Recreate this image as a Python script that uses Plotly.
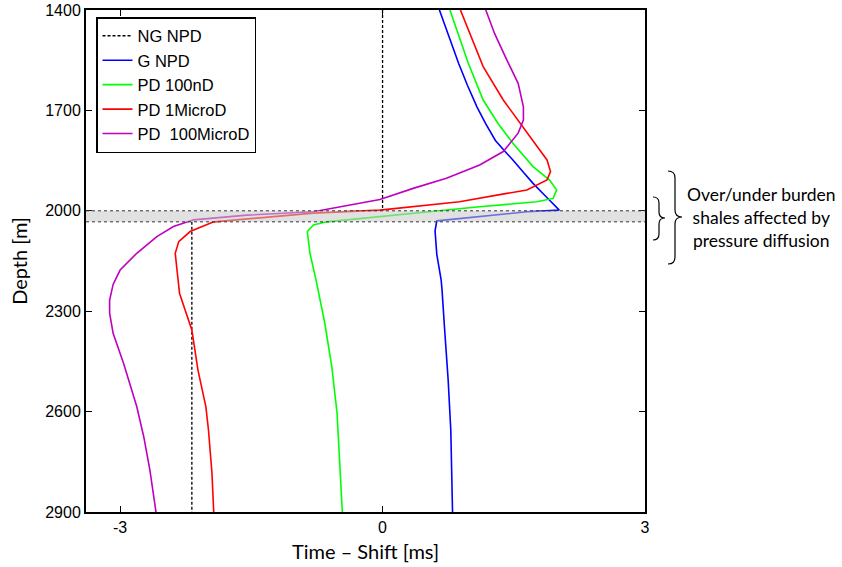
import plotly.graph_objects as go

# ---------------- data ----------------
ng_npd_x = [0.0, 0.0, None, -2.18, -2.18]
ng_npd_depth = [1400, 2000, None, 2033, 2900]

g_npd_x = [0.65, 0.76, 0.87, 0.97, 1.08, 1.18, 1.29, 1.39, 1.49, 1.61, 1.72, 1.87, 2.02,
           1.65, 0.62, 0.60, 0.62, 0.67, 0.68, 0.71, 0.75, 0.78, 0.80]
g_npd_depth = [1400, 1480, 1560, 1625, 1690, 1740, 1790, 1820, 1848, 1885, 1918, 1958, 1998,
               2003, 2030, 2060, 2130, 2207, 2237, 2356, 2506, 2655, 2900]

pd100nd_x = [0.77, 0.98, 1.15, 1.32, 1.49, 1.72, 1.91, 1.99, 1.95, 1.76, 1.11, 0.35, -0.03,
             -0.64, -0.79, -0.86, -0.83, -0.76, -0.66, -0.58, -0.52, -0.49, -0.46]
pd100nd_depth = [1400, 1559, 1669, 1739, 1798, 1868, 1908, 1938, 1963, 1973, 1988, 2007, 2018,
                 2033, 2042, 2062, 2127, 2207, 2336, 2466, 2605, 2755, 2900]

pd1micro_x = [0.89, 1.0, 1.15, 1.38, 1.57, 1.74, 1.88, 1.92, 1.88, 1.65, 1.42, 0.88, -0.03,
              -0.79, -1.93, -2.2, -2.33, -2.37, -2.34, -2.32, -2.18, -2.11, -2.02, -1.99, -1.95, -1.93]
pd1micro_depth = [1400, 1470, 1569, 1669, 1739, 1798, 1848, 1883, 1908, 1938, 1948, 1973, 1998,
                  2007, 2033, 2062, 2092, 2127, 2200, 2247, 2356, 2476, 2585, 2655, 2784, 2900]

pd100micro_x = [1.18, 1.28, 1.42, 1.55, 1.61, 1.61, 1.55, 1.38, 1.11, 0.73, 0.35, -0.03, -0.79,
                -1.55, -2.16, -2.39, -2.58, -2.81, -3.0, -3.08, -3.12, -3.12, -3.08, -2.96, -2.81,
                -2.73, -2.66, -2.59]
pd100micro_depth = [1400, 1470, 1549, 1619, 1689, 1729, 1768, 1823, 1863, 1903, 1933, 1966, 2003,
                    2013, 2027, 2047, 2077, 2127, 2177, 2220, 2267, 2306, 2366, 2456, 2585,
                    2675, 2774, 2900]

reservoir_top = 2000
reservoir_bottom = 2033

x_tickvals = [-3, 0, 3]
x_ticktext = ["-3", "0", "3"]
y_tickvals = [1400, 1700, 2000, 2300, 2600, 2900]

annotation_lines = ["Over/under burden", "shales affected by", "pressure diffusion"]

# ---------------- figure ----------------
fig = go.Figure()

series = [
    ("NG NPD", ng_npd_x, ng_npd_depth, "black", "3px,2px"),
    ("G NPD", g_npd_x, g_npd_depth, "#0000FF", "solid"),
    ("PD 100nD", pd100nd_x, pd100nd_depth, "#00FF00", "solid"),
    ("PD 1MicroD", pd1micro_x, pd1micro_depth, "#FF0000", "solid"),
    ("PD\u00a0\u00a0100MicroD", pd100micro_x, pd100micro_depth, "#BF00BF", "solid"),
]
for name, xs, ds, col, dash in series:
    fig.add_trace(go.Scatter(
        x=xs, y=ds, mode="lines", name=name, connectgaps=False,
        line=dict(color=col, width=1.6 if dash == "solid" else 1.3, dash=dash),
    ))

# reservoir band
fig.add_shape(type="rect", xref="paper", yref="y", x0=0, x1=1,
              y0=reservoir_top, y1=reservoir_bottom,
              fillcolor="rgba(200,200,200,0.55)", line=dict(width=0), layer="above")
for yv in (reservoir_top, reservoir_bottom):
    fig.add_shape(type="line", xref="paper", yref="y", x0=0, x1=1, y0=yv, y1=yv,
                  line=dict(color="#333333", width=1, dash="dot"), layer="above")

# braces (pixel geometry converted to paper coords)
L, R, T, B = 86, 645, 10, 512


def px(x):
    return (x - L) / (R - L)


def py(y):
    return (B - y) / (B - T)


def brace(x0, ytop, ymid, ybot, w):
    h = w / 2.0
    pts = [
        ("M", [(x0, ytop)]),
        ("Q", [(x0 + h, ytop), (x0 + h, ytop + h)]),
        ("L", [(x0 + h, ymid - h)]),
        ("Q", [(x0 + h, ymid), (x0 + w, ymid)]),
        ("Q", [(x0 + h, ymid), (x0 + h, ymid + h)]),
        ("L", [(x0 + h, ybot - h)]),
        ("Q", [(x0 + h, ybot), (x0, ybot)]),
    ]
    s = ""
    for cmd, pp in pts:
        s += cmd + " " + " ".join(f"{px(a):.5f},{py(b):.5f}" for a, b in pp) + " "
    return s.strip()


fig.add_shape(type="path", xref="paper", yref="paper",
              path=brace(653, 197, 218, 240, 12), line=dict(color="black", width=1.2))
fig.add_shape(type="path", xref="paper", yref="paper",
              path=brace(668, 171, 217, 264, 14), line=dict(color="black", width=1.2))

fig.add_annotation(xref="paper", yref="paper", x=px(761), y=py(218),
                   text="<br>".join(annotation_lines), showarrow=False,
                   xanchor="center", yanchor="middle", align="center",
                   font=dict(family="Lato, 'Open Sans', sans-serif", size=17.5, color="black"))

axis_common = dict(
    showline=True, linecolor="black", linewidth=2, mirror="ticks",
    ticks="inside", ticklen=6, tickwidth=1, tickcolor="black",
    showgrid=False, zeroline=False, automargin=False,
    tickfont=dict(family="Liberation Sans, Arial, sans-serif", size=16, color="black"),
)

fig.update_layout(
    width=842, height=567,
    margin=dict(l=86, r=197, t=10, b=55, autoexpand=False),
    paper_bgcolor="white", plot_bgcolor="white",
    xaxis=dict(range=[-3.39, 3], tickvals=x_tickvals, ticktext=x_ticktext,
               title=dict(text="Time – Shift [ms]", standoff=10,
                          font=dict(family="Lato, 'Open Sans', sans-serif", size=20, color="black")),
               **axis_common),
    yaxis=dict(range=[2900, 1400], tickvals=y_tickvals,
               title=dict(text="Depth [m]", standoff=12,
                          font=dict(family="Lato, 'Open Sans', sans-serif", size=20, color="black")),
               **axis_common),
    legend=dict(x=px(96), y=py(17), xanchor="left", yanchor="top",
                bgcolor="white", bordercolor="black", borderwidth=1.5,
                font=dict(family="Liberation Sans, Arial, sans-serif", size=16.5, color="black"),
                tracegroupgap=0, itemwidth=30),
    showlegend=True,
)

fig.write_html("out.html", config={"displayModeBar": False},
               post_script="document.body.style.margin='0';document.body.style.padding='0';")
